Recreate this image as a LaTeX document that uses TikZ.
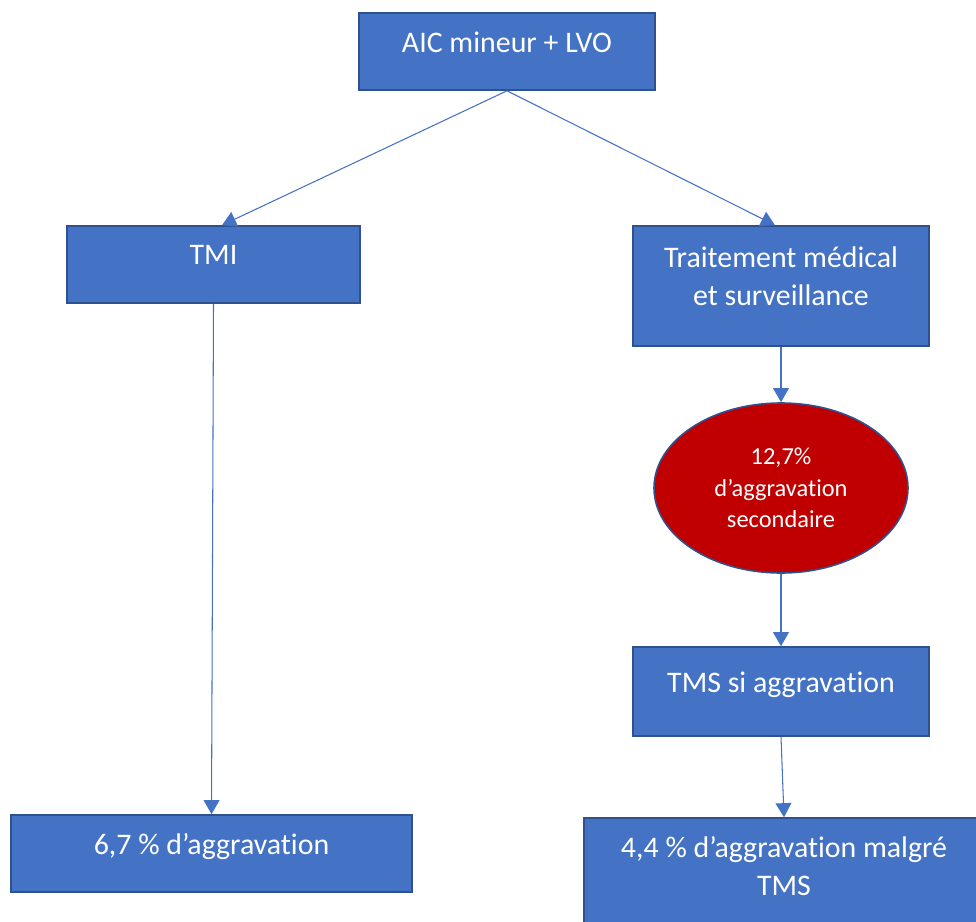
\documentclass[tikz,border=0pt]{standalone}
\usepackage{fontspec}
\setmainfont{Carlito}[Ligatures=CommonOff]
\usetikzlibrary{positioning,shapes.geometric,arrows.meta}

\definecolor{boxblue}{HTML}{4472C4}
\definecolor{edgeblue}{HTML}{2F528F}
\definecolor{alertred}{HTML}{C00000}

\begin{document}
\begin{tikzpicture}[
		box/.style={draw=edgeblue, line width=0.9pt, fill=boxblue, text=white, align=center, inner sep=2pt,
			font=\fontsize{17}{21.6}\selectfont, execute at end node={\rule[-11pt]{0pt}{11pt}}},
		risk/.style={ellipse, draw=edgeblue, line width=0.9pt, fill=alertred, text=white, align=center,
			inner sep=0pt, minimum width=5.08cm, minimum height=3.4cm, font=\fontsize{13.9}{18}\selectfont},
		arrow/.style={-{Triangle[width=9pt,length=8pt]}, draw=boxblue, line width=0.6pt}
	]
		\useasboundingbox (0,0) rectangle (19.52,-18.42);

		\node[box, minimum width=5.92cm, minimum height=1.54cm] (aic) at (10.14,-1.03) {AIC mineur + LVO};
		\node[box, minimum width=5.86cm, minimum height=1.54cm] (tmi) at (4.27,-5.29) {TMI};
		\node[box, minimum width=5.92cm, minimum height=2.40cm] (trt) at (15.62,-5.72) {Traitement médical\\et surveillance};
		\node[risk] (sec) at (15.62,-9.76) {12,7\%\\d’aggravation\\secondaire};
		\node[box, minimum width=5.92cm, minimum height=1.78cm] (tms) at (15.62,-13.83) {TMS si aggravation};
		\node[box, minimum width=8.02cm, minimum height=1.54cm] (res1) at (4.23,-17.07) {6,7 \% d’aggravation};
		\node[box, minimum width=8.00cm, minimum height=2.32cm] (res2) at (15.68,-17.52) {4,4 \% d’aggravation malgré\\TMS};

		\draw[arrow] (aic.south) -- ([xshift=0.17cm]tmi.north);
		\draw[arrow] (aic.south) -- ([xshift=-0.12cm]trt.north);
		\draw[arrow] (tmi.south) -- (res1.north);
		\draw[arrow] (trt.south) -- (sec.north);
		\draw[arrow] (sec.south) -- (tms.north);
		\draw[arrow] (tms.south) -- (res2.north);
	\end{tikzpicture}
\end{document}
